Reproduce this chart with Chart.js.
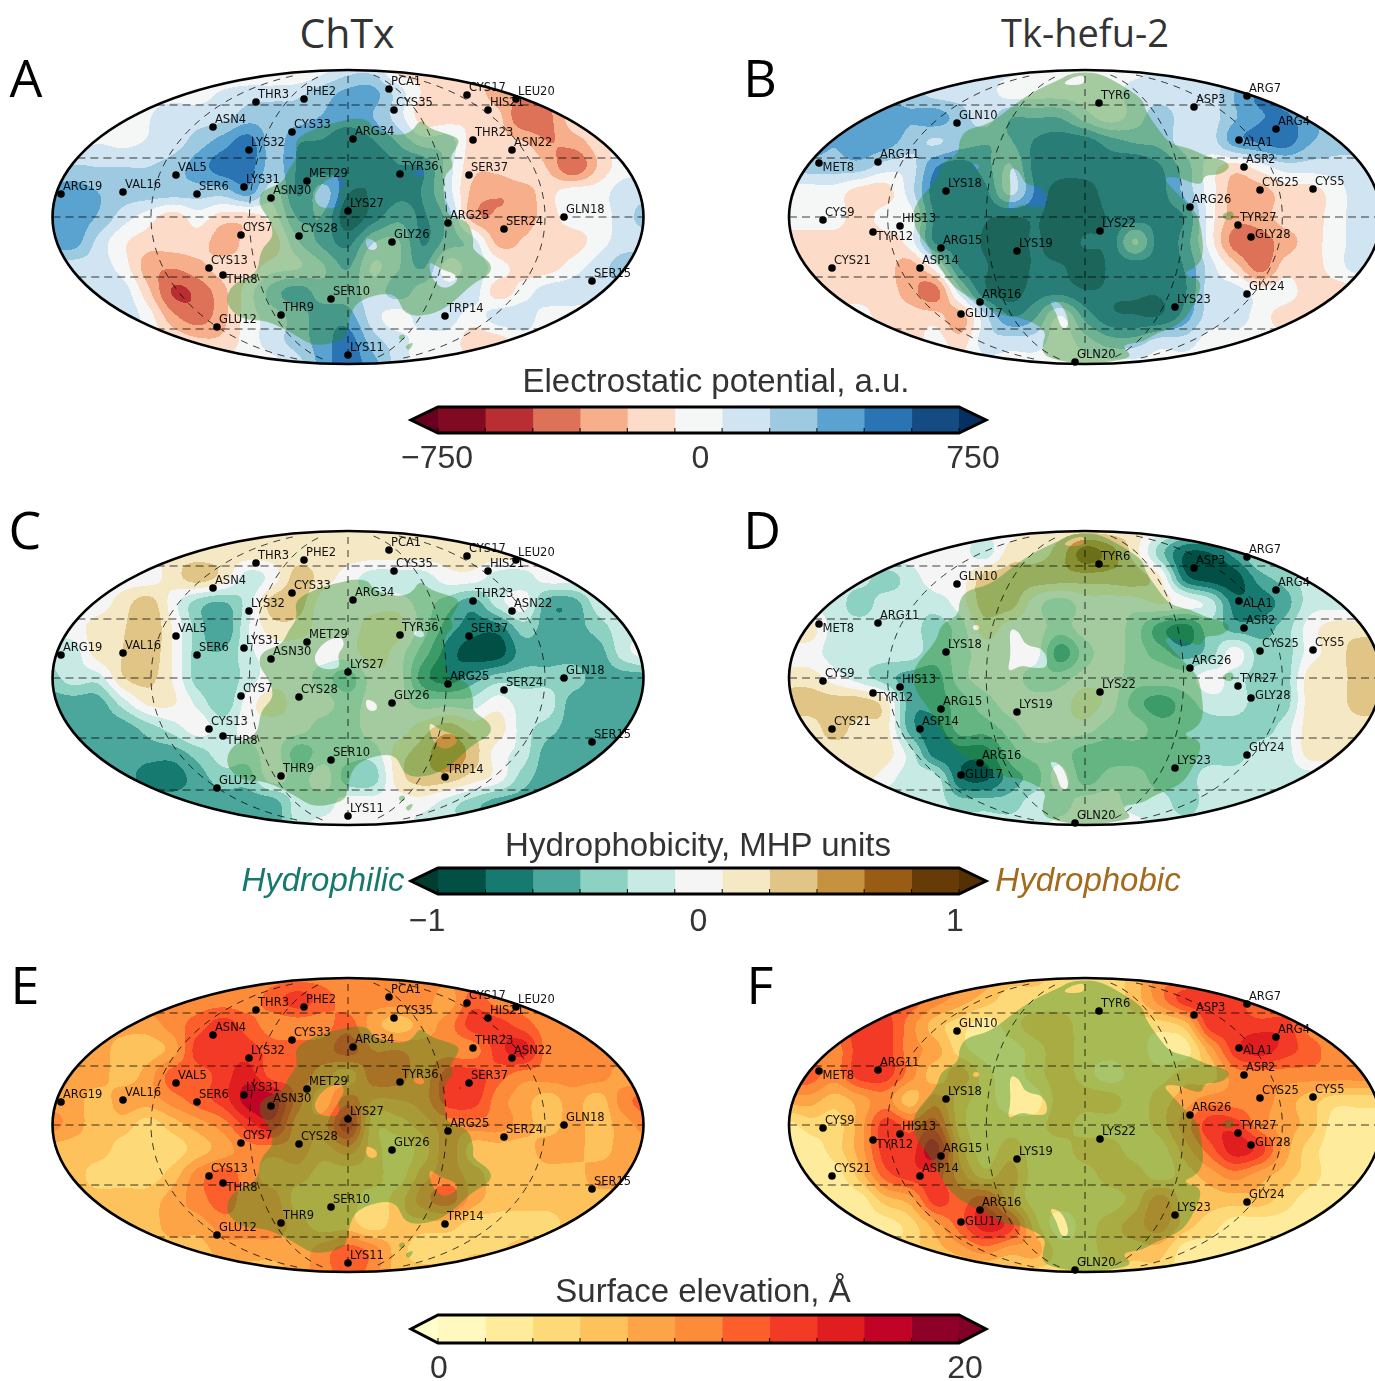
<!DOCTYPE html>
<html><head><meta charset="utf-8">
<script src="https://cdn.jsdelivr.net/npm/chart.js@4"></script>
<style>
html,body{margin:0;padding:0;background:#fff;width:1375px;height:1381px;overflow:hidden}
#page{position:relative;width:1375px;height:1381px;overflow:hidden}
canvas{position:absolute;filter:blur(.5px)}
.t{position:absolute;transform:translate(-50%,-50%);white-space:nowrap;line-height:1;color:#333}
.s{font-family:"Liberation Sans",sans-serif;font-size:33px}
.o{font-family:"Open Sans",sans-serif;font-size:41px}
.o2{font-family:"Open Sans",sans-serif;font-size:38px}
.l{font-family:"Open Sans",sans-serif;font-size:52px;color:#000}
</style></head><body><div id="page"></div>
<script>
// ---------- residues (map units: horizontal / vertical offset from map centre)
const chtxNames=['PCA1','THR3','PHE2','CYS17','LEU20','CYS35','HIS21','ASN4','CYS33','ARG34','THR23','LYS32','ASN22','VAL5','TYR36','SER37','MET29','SER6','LYS31','VAL16','ARG19','ASN30','LYS27','GLN18','ARG25','SER24','CYS7','CYS28','GLY26','CYS13','THR8','SER15','SER10','THR9','TRP14','GLU12','LYS11'];
const chtxX=[41,-92,-44,119,168,46,140,-135,-56,5,125,-99,164,-172,52,121,-41,-151,-104,-225,-287,-77,0,216,100,156,-107,-49,44,-139,-125,244,-17,-67,97,-131,0];
const chtxY=[128,115,118,122,118,107,107,90,85,78,77,67,67,42,43,42,36,23,30,25,23,19,6,0,-6,-12,-18,-19,-25,-51,-58,-64,-82,-98,-99,-110,-138];
const hefuNames=['TYR6','ARG7','ASP3','GLN10','ARG4','ALA1','ARG11','MET8','ASP2','LYS18','CYS25','CYS5','ARG26','CYS9','TYR27','HIS13','TYR12','LYS22','GLY28','ARG15','LYS19','ASP14','CYS21','GLY24','ARG16','LYS23','GLU17','GLN20'];
const hefuX=[14,162,109,-128,191,154,-207,-266,159,-139,175,228,105,-262,153,-185,-212,15,166,-144,-68,-165,-253,162,-105,90,-124,-10];
const hefuY=[114,121,110,94,88,77,55,54,50,26,27,28,10,-3,-8,-9,-15,-14,-20,-31,-34,-51,-51,-77,-85,-90,-97,-145];
const labelsBelow=['THR8','MET8','TYR12'];
const labelsBeside=['ALA1','GLY28','GLU17'];

// ---------- translucent patches (map units)
const chtxPatch=[[9,99],[21,97],[25,88],[49,81],[64,85],[72,98],[82,88],[100,83],[112,78],[108,68],[102,60],[106,50],[96,42],[96,17],[100,0],[120,-3],[126,-23],[124,-33],[143,-45],[143,-57],[124,-67],[108,-83],[88,-97],[57,-100],[49,-77],[29,-77],[5,-87],[-1,-113],[-3,-123],[-34,-130],[-54,-117],[-82,-103],[-106,-103],[-123,-87],[-117,-67],[-90,-57],[-88,-33],[-74,-20],[-78,-3],[-90,13],[-86,27],[-66,33],[-60,47],[-50,60],[-54,78],[-30,90],[-3,97]];
const chtxHoles=[[[-34,23],[-23,37],[-7,42],[-3,33],[-11,23],[-7,10],[-23,8],[-32,13]],[[17,-20],[29,-25],[29,-33],[19,-33]],[[80,-43],[92,-52],[108,-57],[110,-65],[96,-73],[84,-63]],[[66,48],[76,47],[76,40],[66,42]],[[51,-118],[57,-117],[57,-123],[51,-123]],[[58,-128],[66,-125],[62,-133],[58,-132]]];
const hefuPatch=[[-16,143],[0,145],[16,143],[35,133],[58,118],[60,107],[73,88],[85,73],[104,69],[123,60],[139,57],[146,50],[135,42],[119,42],[117,32],[104,35],[93,40],[77,40],[89,27],[102,13],[112,3],[116,-10],[119,-37],[112,-50],[96,-57],[119,-63],[108,-90],[96,-107],[70,-117],[58,-125],[35,-128],[49,-140],[24,-145],[-9,-147],[-41,-140],[-43,-128],[-38,-113],[-64,-100],[-80,-100],[-106,-85],[-129,-73],[-145,-52],[-156,-30],[-170,-13],[-173,10],[-148,37],[-145,53],[-126,63],[-126,77],[-118,88],[-95,93],[-70,113],[-49,127],[-24,138]];
const hefuHoles=[[[-76,50],[-66,47],[-60,32],[-41,30],[-36,10],[-53,10],[-64,13],[-78,5],[-74,23]],[[-37,-82],[-22,-87],[-15,-110],[-24,-112],[-28,-97]],[[137,3],[148,7],[149,-3],[139,-3]],[[-112,53],[-106,53],[-106,48],[-112,48]],[[-24,132],[-13,140],[0,142],[0,132]]];

// ---------- surface cells: rows top to bottom, columns left to right (band numbers)
const gridXs=[-300,-275,-250,-225,-200,-175,-150,-125,-100,-75,-50,-25,0,25,50,75,100,125,150,175,200,225,250,275,300];
const gridYs=[150,125,100,75,50,25,0,-25,-50,-75,-100,-125,-150];
const potentialA=[
[-1,-1,-1,-1,-1,-1,-1,-1,-1,-1,-1,0,1,1,-1,-1,-1,-1,-1,-1,-1,-1,-1,-1,-1],
[0,0,0,0,0,0,0,.6,1,1,1.2,2,2.7,2.8,1,-.6,-1,-1,-2,-2,-2,-2,-2,-2,-2],
[-1,-1,-1,-.6,.4,1,1,1.2,2,2,2,2.6,3,2.5,1,-1,-1,-.6,-1.2,-3.4,-2.8,-1,-1,-1,-1],
[0,0,.4,.2,.6,1,2,3,4,2,3.4,3.6,4.2,3.6,2.4,1,1,-1,-1.2,-1.4,-2.5,-2,-1,0,0],
[1,1.6,1.5,1.5,1.5,2,3,4,4,2,3.6,4,3.6,4.4,3.6,3.4,1,-1.2,-1.2,-.6,-1.6,-3.4,-1.4,0,0],
[3,3,2.5,2,2,2,2,2,3,1,3.6,2,4.4,4.4,3.8,3.4,1,-1.8,-2.4,-2,-.9,0,0,1,1],
[3,3,2.4,1,0,-1,0,-1,-1,0,2.6,2.6,5.2,4,2.8,3.6,2,-2,-2.4,-2,-1,0,0,1,2],
[3,3,1.2,-.3,-1,-1,-1,-2,-1.2,-1,1.4,2.8,3.8,1.6,1.4,3.6,2,1,-1.8,-1.4,-1,-1,0,1,1],
[1,1,1,0,-2,-2.4,-1.8,-1.1,-1,0,.4,1.4,2.6,.4,1.4,2.6,0,1,0,-1,-1,0,1,2,2],
[1,1,1,1,-1.2,-3.6,-3.2,-1.8,0,2,3,2,2,1,2,1,1,1,-1,0,1,1,1,1,1],
[0,0,0,1,0,-2.2,-3,-1.8,0,1,2,3,3,1,0,1,1,0,1,1,0,0,0,0,0],
[0,0,0,0,0,-.6,-1.2,-1.2,0,1,2,3,4,2,1,0,0,-1,-1,0,0,0,0,0,0],
[0,0,0,0,0,0,0,0,0,0,1,3,4,3,1,0,0,0,0,0,0,0,0,0,0]];
const potentialB=[
[1,1,1,1,1,1,1,1,1,1,0,0,0,0,0,1,1,1,1,1,1,1,1,1,1],
[2,2,2,2,2,2,1,1,1,0,0,0,0,0,1,1,1,1,2.5,3.5,3,3,3,3,3],
[3,3,3,3,3,2.6,3,2,1,2.4,2.4,2.4,1,0,1,2,1,1,2.4,3.4,3.6,3,2,2,2],
[3,3,2.6,3.2,3,2,1.4,2,2.4,2.4,3.6,4,4,3,2.4,2.2,1,1,3,3.6,4,2.6,2,2,2],
[2,2,2,2,1,1,3.4,4,3,1.4,3.8,4,4,4,4.4,3.6,2,0,-1,0,1,1,1,1,1],
[0,0,0,-1,-1,1,4,4.2,3.8,1.2,3.6,5,5,4,3.8,3.8,2.2,0,-2,-2,-1,-1,0,1,1],
[0,0,0,-1,0,0,3.6,4,4.4,4.6,4.4,5,5,4.4,4,3.8,3.4,0,-2,-2,-1,-1,0,1,1],
[-1,-1,-1,-1,-1,0,3.6,4,4.6,5,4.4,5,4.4,4.2,1.4,4,3,0,-3,-3,-2,-1,0,1,1],
[-1,-1,-1,-1,-1,-2,0,3.6,4.4,5,4.4,4.4,5,4.4,4.2,4,3.4,1,-1,-3,-1,-1,0,1,1],
[-1,-1,-1,-1,-1,-2,-3,1,4.2,5,4,3.8,4.4,4.4,4.4,4.4,3.6,1,1,0,0,-1,-1,-1,-1],
[0,0,0,0,-1,-1,-1,-2,1.2,3.4,2.6,.4,2.8,4.2,4.4,4.4,3,1,1,0,-1,-1,-1,-1,-1],
[0,0,0,0,0,-1,0,-1,1,1,1,0,1,2,2,1,1,0,0,0,0,0,0,0,0],
[0,0,0,0,0,0,0,0,0,0,0,0,0,0,0,0,0,0,0,0,0,0,0,0,0]];
const hydroC=[
[1,1,1,1,1,1,1,1,1,1,1,1,1,1,1,1,1,1,1,1,1,1,1,1,1],
[0,0,0,0,0,1,1,1,1,1,1,1,1,1,1,1,1,1,1,1,0,0,0,0,0],
[0,0,0,0,0,1,2,1,-1,0,2,1,0,-1,-1,-1,0,0,-1,-1,0,0,0,0,0],
[0,0,0,1,2,0,-2,-2.6,-1,2,2,0,0,0,0,-1,-2,-3,-1,0,-3,-3,-1,-1,-1],
[0,0,1,1.4,2.4,.4,-2,-3.4,-.6,1,1,0,0,1,1,-1,-3,-4,-4,-2,-3,-3,-2,-1,-1],
[-1,-1,1,1.5,2.2,.4,-2,-2.4,-.8,0,0,0,0,1,0,-2,-4,-5,-5,-3,-3,-3,-3,-1,0],
[-2,-1,-1,1.4,1.8,.4,-2,-2.4,-1,0,0,-1,-2,0,0,-3,-4,-3,-2,-2,-2,-2,-3,-3,-3],
[-3,-3,-3,-1,.7,.6,-.8,-2.2,0,1,0,0,-1,0,0,-1,-1,-1,0,-1,-1,-3,-3,-3,-3],
[-3,-3,-3,-3,-2,-1,0,-1,0,0,0,-1,-1,0,0,1,2,1,1,-1,-2,-3,-3,-3,-3],
[-3,-3,-3,-3,-3,-3,-2,-1,-1,0,-2,-1,-1,-1,1,2,3.4,2,0,-1,-3,-3,-3,-3,-3],
[-3,-3,-3,-3,-4,-4,-3,-2,-2,0,-1,0,-2,-2,1,2,2,1,0,-2,-3,-3,-3,-3,-3],
[-3,-3,-3,-3,-3,-3,-3,-3,-3,-3,-1,-1,0,0,0,0,-1,-2,-3,-3,-3,-3,-3,-3,-3],
[-3,-3,-3,-3,-3,-3,-3,-3,-3,-3,-1,0,0,0,0,-1,-1,-2,-3,-3,-3,-3,-3,-3,-3]];
const hydroD=[
[0,0,0,0,0,0,0,0,0,0,1,1,1,1,1,0,-1,-1,-1,-1,-1,-1,-1,-1,-1],
[0,0,0,0,0,0,0,0,-1,1,1,2,4,3,1,-2,-4.5,-4.5,-3,-1,-1,-1,-1,-1,-1],
[-1,-1,-1,-1,-2,-1,0,0,2,2,2,2,2,2,2,.6,-4,-5,-5,-3,-2,-1,-1,-1,-1],
[-1,-1,-1,-2,-1,-1,-1,0,2,2,0,-1,0,0,0,.6,0,-1,-4,-4,-3,-1,-1,-1,-1],
[1,1,-1,-1,-1,-1,-2,-1,1,0,0,-1,0,0,-1,-3,-4,-2,-3,-3,-2,0,1,1,1],
[0,0,-1,-1,-1,-1,-2,-1,0,0,0,-3,-1,0,-1,-2,-3,-2,0,-2,-2,0,1,2,2],
[1,1,0,-1,-2,-3,-3,-1,0,0,-1,-1,0,0,-1,-1,-1,0,-1,-2,-2,1,1,2,2],
[2,2,2,2,1,-3,-3,-2,-1,0,0,0,1,0,-2,-3,-2,-1,-1,-2,-2,1,1,2,2],
[1,1,2,1,1,-3,-4,-2,-2,-1,0,0,0,-1,-1,-2,-2,-2,-2,-2,-1,1,1,1,1],
[1,1,1,1,1,-1,-4,-4,-4,-2,-1,-1,-2,-2,-2,-2,-2,-2,-2,-1,-1,1,1,1,1],
[1,1,1,1,0,-1,-1,-4.3,-4.7,-3,-2,0,-2,-1,-1,-2,-2,-1,-1,-1,-1,-1,-1,-1,-1],
[-1,-1,-1,-1,-1,-1,-1,-2,-2,-2,-1,-1,0,0,-1,-1,-2,-1,-1,-1,-1,-1,-1,-1,-1],
[-1,-1,-1,-1,-1,-1,-1,-1,-1,-1,-1,0,0,0,0,-1,-1,-1,-1,-1,-1,-1,-1,-1,-1]];
const elevationE=[
[5,5,5,5,5,5,5,5,5,5,5,5,5,5,5,5,5,5,5,5,5,5,5,5,5],
[5,5,5,5,5,5,5,5,5,6,7,6,5,5,5,5,4,6,5,5,5,5,5,5,5],
[4,4,4,4,4,5,6,7,6,5,5,5,6,4,3,4,5,7,7,6,5,5,5,5,5],
[4,4,4,3,3,4,7,7,7,6,6,6,7,5.5,5.5,5,5,5,7,8,5,5,5,5,5],
[4,4,4,3,4,6,6,7,8,6,6,5,4,6,6,5,7,7,6,5,5,5,5,4,4],
[4,4,3,4,4,5,6,7,9,9,6,4,6,4.5,4.5,5,7,7,5,4,3,4,3,5,6],
[5,4,3,3,2,3,4,5,7,8,5,5,8,3,3,4,5,5,5,4,3,4,3,4,5],
[3,3,3,2,2,2,3,4,5,5,5,4,5,3,2,3,5,3,3,3,4,4,3,4,4],
[3,3,2,2,2,3,5,6,5,4,4,3,3,3,2,4,5,4,3,3,3,3,4,4,4],
[3,3,3,3,3,4,5,6,5,5,3,3,3,2,3,5,6,4,3,3,3,3,3,3,3],
[3,3,3,3,3,4,4,5,5,5,4,3,3,2,3,3,3,2,2,2,2,3,3,3,3],
[3,3,3,3,3,3,3,4,4,4,4,5,6,5,3,2,2,2.4,2.4,3,3,3,3,3,3],
[3,3,3,3,3,3,3,3,3,3,4,5,6,5,3,3,3,3,3,3,3,3,3,3,3]];
const elevationF=[
[5,5,5,5,5,5,5,5,4,3,3,2,2,2,3,5,5,5,5,5,5,5,5,5,5],
[6,6,6,6,6,6,5,4,3,2,2,2,2,2,3,5,7,7,7,5,5,5,5,5,5],
[6,6,6,7,7,5,3,2,1,2,3,3,2,2,2,2,3,7,7,7,7,5,5,5,5],
[5,5,5,7,7,5,4,2,1,1,2,3,2,2,2,1,1,4,7,8,7,6,5,5,5],
[6,6,5,7,7,5,3,4,2,1,2,3,2,1,2,2,3,3,5,5,5,5,5,5,5],
[4,4,3,4,5,3,5,3,2,1,1,3,3,3,2,3,4,5,5,5,4,3,2,2,2],
[1,2,2,4,7,6,7,3,2,2,2,3,2,2,2,3,5,7,7,5,4,3,1,1,1],
[1,1,2,4,7,7,9,4,2,3,2,2,3,3,2,2,4,6,8,7,4,2,1,1,1],
[1,1,1,3,6,7,7,5,3,4,2,2,2,3,3,2,3,4,5,4,3,2,1,1,1],
[1,1,1,1,3,4,7,6,7,4,2,2,2,2,3,5,3,3,3,3,2,1,1,1,1],
[1,1,1,1,1,2,4,6,8,7,3,1,2,3,4,5,3,2,1,1,1,1,1,1,1],
[1,1,1,1,1,2,3,4,5,4,4,2,2,3,3,3,1,1,1,1,1,1,1,1,1],
[1,1,1,1,1,1,2,2,2,2,2,2,2,2,2,2,1,1,1,1,1,1,1,1,1]];

// ---------- colour bars
const potentialEdges=[-750,-614,-477,-341,-205,-68,68,205,341,477,614,750];
const potentialTicks=[-750,0,750];
const potentialTickText=['−750','0','750'];
const potentialColors=['#7f0a22','#b82e33','#de7259','#f6ae8b','#fcdbc8','#f5f6f6','#d1e4f1','#9ecae1','#5aa2cf','#2b74b3','#134b82'];
const hydroEdges=[-1,-0.818,-0.636,-0.455,-0.273,-0.091,0.091,0.273,0.455,0.636,0.818,1];
const hydroTicks=[-1,0,1];
const hydroTickText=['−1','0','1'];
const hydroColors=['#024f45','#177a70','#4ba69b','#8dd1c3','#c7eae5','#f5f5f5','#f5e9c5','#e0c587','#c7923f','#985c14','#673b07'];
const elevationEdges=[0,1.82,3.64,5.45,7.27,9.09,10.91,12.73,14.55,16.36,18.18,20];
const elevationTicks=[0,20];
const elevationTickText=['0','20'];
const elevationColors=['#fff9c0','#feeb9c','#fed978','#fec25c','#fda446','#fc8b3a','#fc5f2c','#f23a26','#e01e20','#c00326','#8e0028'];

function hexRGB(h){return [1,3,5].map(i=>parseInt(h.substr(i,2),16));}

// ---------- map drawing: contour bands, patches, graticule, outline
const mapPlugin={id:'mapLayers',
 beforeDatasetsDraw(chart){
  const o=chart.options.plugins.mapLayers, ctx=chart.ctx, X=chart.scales.x, Y=chart.scales.y, a=chart.chartArea;
  const cells=chart.data.datasets[0].data, nx=gridXs.length, ny=gridYs.length;
  const val=(i,j)=>cells[Math.max(0,Math.min(ny-1,j))*nx+Math.max(0,Math.min(nx-1,i))].v;
  const cr=(p,q,r,s,t)=>q+.5*t*(r-p+t*(2*p-5*q+4*r-s+t*(3*(q-r)+s-p)));
  const sample=(mx,my)=>{
    const fx=(mx-gridXs[0])/(gridXs[1]-gridXs[0]), fy=(gridYs[0]-my)/(gridYs[0]-gridYs[1]);
    const i=Math.floor(fx), j=Math.floor(fy), tx=fx-i, ty=fy-j, col=[];
    for(let k=-1;k<3;k++) col.push(cr(val(i-1,j+k),val(i,j+k),val(i+1,j+k),val(i+2,j+k),tx));
    return cr(col[0],col[1],col[2],col[3],ty);
  };
  const w=Math.round(a.right-a.left), h=Math.round(a.bottom-a.top);
  const off=document.createElement('canvas'); off.width=w; off.height=h;
  const oc=off.getContext('2d'), img=oc.createImageData(w,h), cols=o.colors.map(hexRGB);
  for(let py=0;py<h;py++){const my=Y.getValueForPixel(a.top+py+.5);
   for(let px=0;px<w;px++){const mx=X.getValueForPixel(a.left+px+.5);
    if((mx*mx)/(o.a*o.a)+(my*my)/(o.b*o.b)>1.03) continue;
    let b=Math.round(sample(mx,my))+o.zero; b=Math.max(0,Math.min(cols.length-1,b));
    const c=cols[b], k=(py*w+px)*4; img.data[k]=c[0];img.data[k+1]=c[1];img.data[k+2]=c[2];img.data[k+3]=255;
   }}
  oc.putImageData(img,0,0);
  const cx=X.getPixelForValue(0), cy=Y.getPixelForValue(0), rx=X.getPixelForValue(o.a)-cx, ry=cy-Y.getPixelForValue(o.b);
  ctx.save();
  ctx.beginPath(); ctx.ellipse(cx,cy,rx,ry,0,0,Math.PI*2); ctx.clip();
  ctx.drawImage(off,a.left,a.top);
  // patch rings
  ctx.beginPath();
  chart.data.datasets.filter(d=>d.ring).forEach(d=>{
    const p=d.data.map(q=>[X.getPixelForValue(q.x),Y.getPixelForValue(q.y)]), n=p.length;
    ctx.moveTo((p[n-1][0]+p[0][0])/2,(p[n-1][1]+p[0][1])/2);
    for(let i=0;i<n;i++){const q=p[(i+1)%n]; ctx.quadraticCurveTo(p[i][0],p[i][1],(p[i][0]+q[0])/2,(p[i][1]+q[1])/2);}
    ctx.closePath();
  });
  ctx.fillStyle='rgba(40,140,30,.4)'; ctx.fill('evenodd');
  // parallels
  ctx.lineWidth=1.2; ctx.strokeStyle='rgba(0,0,0,.75)'; ctx.setLineDash([8,5]);
  o.parallels.forEach(v=>{const py=Y.getPixelForValue(v), hw=rx*Math.sqrt(1-(v/o.b)*(v/o.b));
    ctx.beginPath(); ctx.moveTo(cx-hw,py); ctx.lineTo(cx+hw,py); ctx.stroke();});
  // meridians
  ctx.lineWidth=1; ctx.setLineDash([7,6]);
  o.meridians.forEach(m=>{const r=Math.abs(m)*rx; const s=Math.asin(o.cap/o.b);
    ctx.beginPath();
    if(m===0){ctx.moveTo(cx,cy-ry+6);ctx.lineTo(cx,cy+ry-6);}
    else if(m<0) ctx.ellipse(cx,cy,r,ry,0,Math.PI-s,Math.PI+s);
    else ctx.ellipse(cx,cy,r,ry,0,-s,s);
    ctx.stroke();});
  ctx.restore();
  ctx.save(); ctx.setLineDash([]); ctx.lineWidth=2.6; ctx.strokeStyle='#000';
  ctx.beginPath(); ctx.ellipse(cx,cy,rx,ry,0,0,Math.PI*2); ctx.stroke(); ctx.restore();
 },
 afterDatasetsDraw(chart){
  const ctx=chart.ctx, X=chart.scales.x, Y=chart.scales.y;
  const pts=chart.data.datasets.find(d=>d.names);
  ctx.save(); ctx.font='11.5px "DejaVu Sans"'; ctx.fillStyle='rgba(0,0,0,.92)'; ctx.textBaseline='middle'; ctx.textAlign='left';
  pts.data.forEach((p,i)=>{const n=pts.names[i]; let dx=2, dy=-7;
    if(labelsBelow.includes(n)){dx=3.5;dy=5;} else if(labelsBeside.includes(n)){dx=4;dy=n==='ALA1'?3:(n==='GLY28'?-2:0);}
    ctx.fillText(n,X.getPixelForValue(p.x)+dx,Y.getPixelForValue(p.y)+dy);});
  ctx.restore();
 }};

function addMap(cx,cy,a,grid,colors,zero,names,xs,ys,patch,holes){
  const page=document.getElementById('page'), W=620,H=310;
  const c=document.createElement('canvas'); c.width=W;c.height=H;
  c.style.cssText=`left:${cx-W/2}px;top:${cy-H/2}px;width:${W}px;height:${H}px`;
  page.appendChild(c);
  const cells=[]; gridYs.forEach((y,j)=>gridXs.forEach((x,i)=>cells.push({x,y,v:grid[j][i]})));
  const ringSet=[patch,...holes].map(r=>({ring:true,showLine:false,pointRadius:0,data:r.map(q=>({x:q[0],y:q[1]}))}));
  new Chart(c,{type:'scatter',data:{datasets:[
    {label:'surface',data:cells,pointRadius:0,showLine:false},
    ...ringSet,
    {label:'residues',names,data:xs.map((x,i)=>({x,y:ys[i]})),pointRadius:3.8,pointBackgroundColor:'#000',pointBorderWidth:0,showLine:false}
  ]},options:{responsive:false,animation:false,events:[],devicePixelRatio:1,layout:{padding:0,autoPadding:false},
    scales:{x:{type:'linear',min:-W/2,max:W/2,display:false},y:{type:'linear',min:-H/2,max:H/2,display:false}},
    plugins:{legend:{display:false},tooltip:{enabled:false},
      mapLayers:{a,b:147,colors,zero,parallels:[112,59,0,-60,-112],meridians:[-2/3,-1/3,0,1/3,2/3],cap:142}}},
    plugins:[mapPlugin]});
}

// ---------- colour-bar drawing
const barPlugin={id:'barLayers',
 afterDatasetsDraw(chart){
  const o=chart.options.plugins.barLayers, ctx=chart.ctx, a=chart.chartArea, X=chart.scales.x;
  const my=(a.top+a.bottom)/2, tip=27;
  ctx.save();
  ctx.fillStyle=o.ends[0]; ctx.beginPath(); ctx.moveTo(a.left,a.top); ctx.lineTo(a.left-tip,my); ctx.lineTo(a.left,a.bottom); ctx.fill();
  ctx.fillStyle=o.ends[1]; ctx.beginPath(); ctx.moveTo(a.right,a.top); ctx.lineTo(a.right+tip,my); ctx.lineTo(a.right,a.bottom); ctx.fill();
  ctx.strokeStyle='#000'; ctx.lineWidth=1;
  o.edges.forEach(v=>{const p=X.getPixelForValue(v); ctx.beginPath(); ctx.moveTo(p,a.bottom); ctx.lineTo(p,a.bottom-5); ctx.stroke();});
  ctx.lineWidth=3; ctx.lineJoin='miter';
  ctx.beginPath(); ctx.moveTo(a.left,a.top); ctx.lineTo(a.right,a.top); ctx.lineTo(a.right+tip,my); ctx.lineTo(a.right,a.bottom); ctx.lineTo(a.left,a.bottom); ctx.lineTo(a.left-tip,my); ctx.closePath(); ctx.stroke();
  ctx.font='32px "Liberation Sans"'; ctx.fillStyle='#333'; ctx.textAlign='center'; ctx.textBaseline='middle';
  o.ticks.forEach((v,i)=>{ctx.fillText(o.text[i],X.getPixelForValue(v)+o.nudge[i],a.bottom+o.gap);});
  ctx.restore();
 }};
function addBar(top,barH,edges,colors,ends,ticks,text,nudge,gap){
  const page=document.getElementById('page'), W=620,H=barH+8+50;
  const c=document.createElement('canvas'); c.width=W;c.height=H;
  c.style.cssText=`left:390px;top:${top-8}px;width:${W}px;height:${H}px`;
  page.appendChild(c);
  new Chart(c,{type:'bar',data:{labels:[''],datasets:colors.map((col,i)=>({data:[[edges[i],edges[i+1]]],backgroundColor:col,borderWidth:0,barPercentage:1,categoryPercentage:1,grouped:false}))},
   options:{indexAxis:'y',responsive:false,animation:false,events:[],devicePixelRatio:1,layout:{padding:{left:48,right:51,top:8,bottom:50}},
    scales:{x:{type:'linear',min:edges[0],max:edges[edges.length-1],display:false},y:{display:false}},
    plugins:{legend:{display:false},tooltip:{enabled:false},barLayers:{edges,ends,ticks,text,nudge,gap}}},
    plugins:[barPlugin]});
}

addMap(347.5,217,295.5,potentialA,potentialColors,5,chtxNames,chtxX,chtxY,chtxPatch,chtxHoles);
addMap(1085,217,296,potentialB,potentialColors,5,hefuNames,hefuX,hefuY,hefuPatch,hefuHoles);
addMap(347.5,678,295.5,hydroC,hydroColors,5,chtxNames,chtxX,chtxY,chtxPatch,chtxHoles);
addMap(1085,678,296,hydroD,hydroColors,5,hefuNames,hefuX,hefuY,hefuPatch,hefuHoles);
addMap(347.5,1125,295.5,elevationE,elevationColors,0,chtxNames,chtxX,chtxY,chtxPatch,chtxHoles);
addMap(1085,1125,296,elevationF,elevationColors,0,hefuNames,hefuX,hefuY,hefuPatch,hefuHoles);
addBar(407,26,potentialEdges,potentialColors,['#67001f','#053061'],potentialTicks,potentialTickText,[-1,2,14],26);
addBar(868,26,hydroEdges,hydroColors,['#003c30','#543005'],hydroTicks,hydroTickText,[-11,0,-4],28);
addBar(1315,28,elevationEdges,elevationColors,['#ffffcc','#800026'],elevationTicks,elevationTickText,[1,6],26);

const texts=[['ChTx','o',347,32],['Tk-hefu-2','o2',1085,32],['A','l',26,77],['B','l',760,77],['C','l',25,529],['D','l',762,529],['E','l',25,984],['F','l',760,984],
 ['Electrostatic potential, a.u.','s',716,380],['Hydrophobicity, MHP units','s',698,844],['Surface elevation, Å','s',703,1290]];
texts.forEach(([s,k,x,y])=>{const d=document.createElement('div');d.className='t '+k;d.textContent=s;d.style.left=x+'px';d.style.top=y+'px';document.getElementById('page').appendChild(d);});
[['Hydrophilic',323,879,'#17796e'],['Hydrophobic',1088,879,'#a5691c']].forEach(([s,x,y,c])=>{const d=document.createElement('div');d.className='t s';d.textContent=s;d.style.cssText=`left:${x}px;top:${y}px;color:${c};font-style:italic`;document.getElementById('page').appendChild(d);});
</script></body></html>
